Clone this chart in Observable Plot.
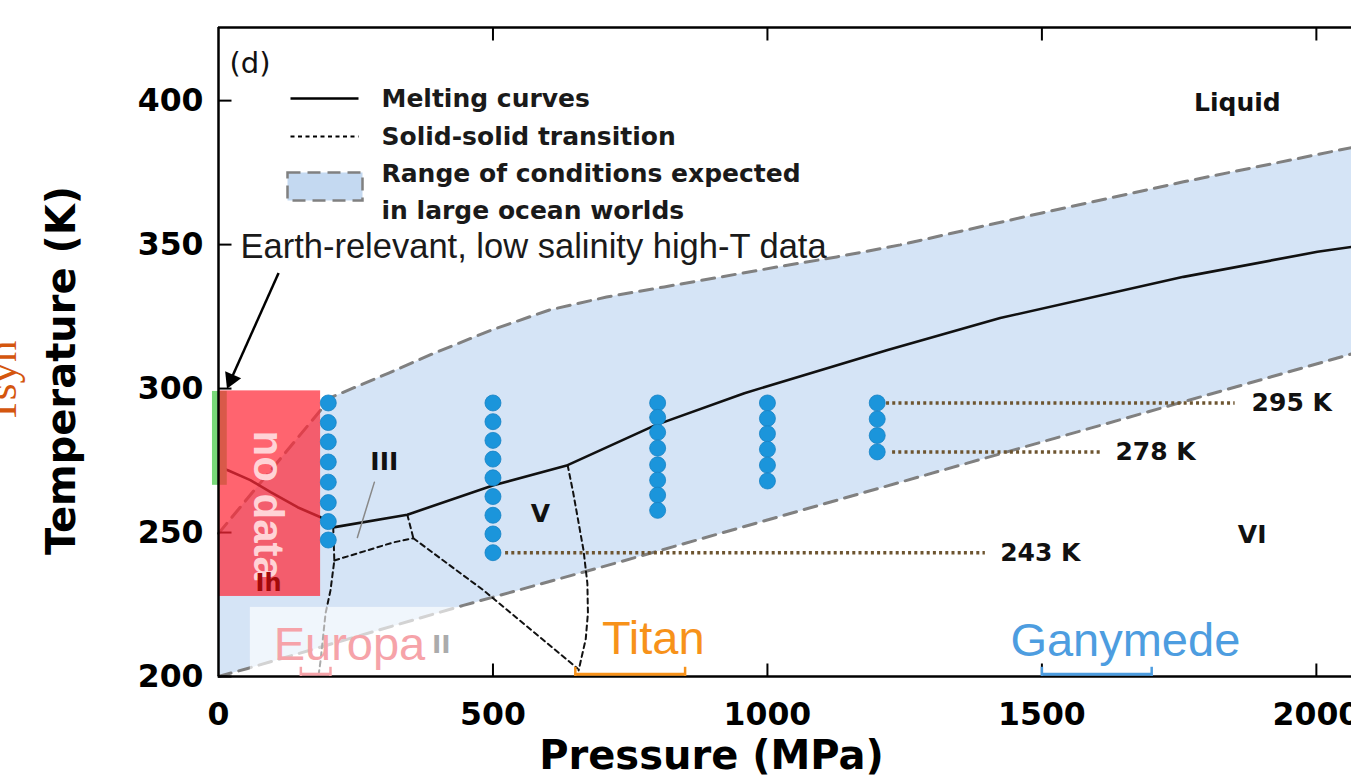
<!DOCTYPE html>
<html>
<head>
<meta charset="utf-8">
<script src="https://cdn.jsdelivr.net/npm/d3@7"></script>
<script src="https://cdn.jsdelivr.net/npm/@observablehq/plot@0.6"></script>
<style>
  html, body { margin: 0; padding: 0; background: #fff; overflow: hidden; }
</style>
</head>
<body>
<div id="chart"></div>
<script>
// ---------- data ----------
const xDomain = [0, 2064];        // MPa (right edge is cropped)
const yDomain = [200, 425.4];     // K
const xTicks = [0, 500, 1000, 1500, 2000];
const xInnerTicks = [500, 1000, 1500, 2000];
const yTicks = [200, 250, 300, 350, 400];

// melting curve (Ih -> III -> V -> VI)
const meltingCurve = [[0,273.2],[16,271.7],[58,268.2],[95,264],[144,258.8],[186,255.3],[195,254.3],[209,251.8],
  [344,256.2],[501,266.4],[636,273.4],[696,278.6],[796,287.3],[958,298.4],[1219,313.4],[1424,324.5],
  [1758,338.8],[2002,347.5],[2064,349.2]];

// solid-solid transitions
const trIhII  = [[209,251.8],[211,240.3],[204,229.9],[195,221.9],[186,205.6],[182,200]];
const trIIIII = [[211,240.3],[271,243.8],[319,246.6],[355,248]];
const trIIIV  = [[344,256.2],[355,248]];
const trIIV   = [[355,248],[483,229.9],[654,202.8]];
const trVVI   = [[636,273.4],[646,264],[654,255.5],[665,243.8],[672,232.3],[673,222],[669,213],[656,202.1]];

// range of conditions expected in large ocean worlds
const oceanUpper = [[0,249.7],[186,292.5],[206,297],[310,305.4],[393,312.3],[497,320.3],[603,327.3],[707,331.8],
  [812,335.3],[916,338.8],[1020,342.3],[1126,345.7],[1242,349.9],[1500,361],[1758,371.8],[2064,383.7]];
const oceanLower = [[0,200],[53,202.8],[446,224.7],[696,237.9],[2064,312]];

// experimental sample points (pressure MPa -> temperatures K)
const samplePressures = [200, 500, 800, 1000, 1200];
const sampleTemps = [
  [295, 288.2, 281.5, 274.5, 267.5, 260.4, 253.8, 247.4],
  [295, 288.5, 282, 275.5, 269, 262.5, 256, 249.5, 243],
  [295, 290, 284.8, 279.3, 273.5, 268.2, 263, 257.7],
  [295, 289.6, 284.3, 278.9, 273.4, 267.9],
  [295, 289.4, 283.7, 278]
];

// isotherm reference lines
const isoTemps  = [295, 278, 243];
const isoStart  = [1217, 1228, 523];
const isoEnd    = [1852, 1607, 1397];
const isoLabelP = [1882, 1634, 1424];

// regions
const noDataBox  = {x1: 0, x2: 186, y1: 227.8, y2: 299.2};
const earthBox   = {x1: -11, x2: 16, y1: 266.4, y2: 299};
const europaBox  = {x1: 58, x2: 441, y1: 200, y2: 224};

// moons: pressure ranges at the ice shell base
const moonNames  = ["Europa", "Titan", "Ganymede"];
const moonColors = ["#f6a3a9", "#f7921a", "#4d9de0"];
const moonP1     = [150, 650, 1500];
const moonP2     = [204, 850, 1700];
const moonLabelP = [238.6, 792, 1652];
const moonLabelT = [210.8, 213.2, 212.5];

// phase labels
const phaseText = ["III", "V", "VI", "II", "Liquid"];
const phaseP    = [302, 586.5, 1883, 406, 1856];
const phaseT    = [274.4, 256.3, 249, 210.8, 399.3];

// legend entries
const legendText = ["Melting curves", "Solid-solid transition", "Range of conditions expected", "in large ocean worlds"];

const leaderIII = [[284,267.5],[253,248.3]];
const arrowEarth = {x1: 104, y1: 337.7, x2: 16, y2: 300.2};

// ---------- build tables ----------
const oceanPolygon = oceanUpper.concat(oceanLower.slice().reverse());
const samples = samplePressures.flatMap((p, i) => sampleTemps[i].map(t => ({p, t})));
const isoLines = isoTemps.map((t, i) => ({t, x1: isoStart[i], x2: isoEnd[i], lx: isoLabelP[i]}));
const moons = moonNames.map((name, i) => ({name, color: moonColors[i], p1: moonP1[i], p2: moonP2[i], lx: moonLabelP[i], ly: moonLabelT[i]}));
const moonEnds = moons.flatMap(m => [{p: m.p1, color: m.color}, {p: m.p2, color: m.color}]);
const phases = phaseText.map((t, i) => ({t, x: phaseP[i], y: phaseT[i]}));

const X = d => d[0], Y = d => d[1];
const tickShape = {draw(ctx, l) { ctx.moveTo(0, 0); ctx.lineTo(0, -l); }};
const blueFill = "#d5e4f6";
const dashGray = "#808080";
const bold = "bold";
const legendDy = [71, 109, 146, 183];

const dashedLine = (arr) => Plot.line(arr, {x: X, y: Y, stroke: "#111", strokeWidth: 2, strokeDasharray: "5,4"});
const legendLabel = (t, i) => Plot.text([t], {frameAnchor: "top-left", dx: 163, dy: legendDy[i], textAnchor: "start", lineAnchor: "middle", fontSize: 25, fontWeight: bold, fill: "#1a1a1a"});

const chart = Plot.plot({
  width: 1351,
  height: 780,
  marginLeft: 218,
  marginRight: 0,
  marginTop: 27,
  marginBottom: 104,
  x: {domain: xDomain},
  y: {domain: yDomain},
  color: {type: "identity"},
  style: {fontFamily: "DejaVu Sans", fontSize: "24px", background: "white", color: "black"},
  marks: [
    // ocean-world range
    Plot.line(oceanPolygon, {x: X, y: Y, fill: blueFill, stroke: null}),
    Plot.line(oceanUpper, {x: X, y: Y, stroke: dashGray, strokeWidth: 3, strokeDasharray: "13,8"}),
    Plot.line(oceanLower, {x: X, y: Y, stroke: dashGray, strokeWidth: 3, strokeDasharray: "13,8"}),

    // legend
    Plot.vector([0], {frameAnchor: "top-left", dx: 72, dy: 71, length: 68, rotate: 90, anchor: "start", shape: tickShape, stroke: "black", strokeWidth: 2.5, strokeLinecap: "butt"}),
    Plot.vector([0], {frameAnchor: "top-left", dx: 72, dy: 109, length: 68, rotate: 90, anchor: "start", shape: tickShape, stroke: "black", strokeWidth: 2, strokeDasharray: "4,3.5", strokeLinecap: "butt"}),
    Plot.frame({insetLeft: 69, insetRight: 989, insetTop: 145, insetBottom: 476, fill: "#c4d9f1", stroke: dashGray, strokeWidth: 2.5, strokeDasharray: "13,7"}),
    ...legendText.map(legendLabel),

    // phase boundaries
    Plot.line(meltingCurve, {x: X, y: Y, stroke: "#111", strokeWidth: 2.6}),
    dashedLine(trIhII), dashedLine(trIIIII), dashedLine(trIIIV), dashedLine(trIIV), dashedLine(trVVI),
    Plot.line(leaderIII, {x: X, y: Y, stroke: "#888", strokeWidth: 1.5}),
    Plot.text(phases, {x: "x", y: "y", text: "t", fontSize: 25, fontWeight: bold, fill: "#111"}),

    // isotherms
    Plot.ruleY(isoLines, {y: "t", x1: "x1", x2: "x2", stroke: "#6e5530", strokeWidth: 3.5, strokeDasharray: "3,3.2"}),
    Plot.text(isoLines, {x: "lx", y: "t", text: d => `${d.t} K`, textAnchor: "start", fontSize: 25, fontWeight: bold, fill: "#111"}),

    // inward ticks
    Plot.vector(yTicks, {x: xDomain[0], y: d => d, length: 13, rotate: 90, anchor: "start", shape: tickShape, stroke: "black", strokeWidth: 2, strokeLinecap: "butt"}),
    Plot.vector(xInnerTicks, {x: d => d, y: yDomain[0], length: 13, rotate: 0, anchor: "start", shape: tickShape, stroke: "black", strokeWidth: 2, strokeLinecap: "butt"}),
    Plot.vector(xInnerTicks, {x: d => d, y: yDomain[1], length: 13, rotate: 180, anchor: "start", shape: tickShape, stroke: "black", strokeWidth: 2, strokeLinecap: "butt"}),

    // white box behind Europa label
    Plot.rect([europaBox], {x1: "x1", x2: "x2", y1: "y1", y2: "y2", fill: "white", fillOpacity: 0.65}),

    // Earth-relevant data and no-data region
    Plot.rect([earthBox], {x1: "x1", x2: "x2", y1: "y1", y2: "y2", fill: "#78d878"}),
    Plot.rect([noDataBox], {x1: "x1", x2: "x2", y1: "y1", y2: "y2", fill: "#ff2838", fillOpacity: 0.72}),
    Plot.text(["no data"], {x: 89, y: 259.5, rotate: 90, textAnchor: "middle", lineAnchor: "middle", fontFamily: "Liberation Sans", fontSize: 42, fontWeight: bold, fill: "#ffd3d6"}),
    Plot.text(["Ih"], {x: 91, y: 232.3, fontSize: 24, fontWeight: bold, fill: "#a30a0a"}),

    // frame
    Plot.ruleX([xDomain[0]], {stroke: "black", strokeWidth: 2.5}),
    Plot.ruleY([yDomain[0], yDomain[1]], {stroke: "black", strokeWidth: 2.5}),

    // samples
    Plot.dot(samples, {x: "p", y: "t", r: 8, fill: "#1b95db", stroke: "#1682c4", strokeWidth: 0.8}),

    // moons
    Plot.ruleY(moons, {y: 200.8, x1: "p1", x2: "p2", stroke: "color", strokeWidth: 3}),
    Plot.ruleX(moonEnds, {x: "p", y1: 200, y2: 203.2, stroke: "color", strokeWidth: 2.5}),
    Plot.text(moons, {x: "lx", y: "ly", text: "name", fill: "color", fontFamily: "Liberation Sans", fontSize: 47}),

    // annotation with filled arrow head
    Plot.text(["Earth-relevant, low salinity high-T data"], {frameAnchor: "top-left", dx: 22, dy: 219, textAnchor: "start", lineAnchor: "middle", fontFamily: "Liberation Sans", fontSize: 34.5, fill: "#1a1a1a"}),
    Plot.link([arrowEarth], {x1: "x1", y1: "y1", x2: "x2", y2: "y2", stroke: "black", strokeWidth: 2.5, dx: 3, dy: -7}),
    Plot.dot([arrowEarth], {x: "x2", y: "y2", symbol: "triangle", r: 6.5, rotate: 204, fill: "black", stroke: null, dx: 3.8, dy: -8.6}),

    // panel tag
    Plot.text(["(d)"], {frameAnchor: "top-left", dx: 11, dy: 36, textAnchor: "start", lineAnchor: "middle", fontSize: 29, fill: "#111"}),

    // axes
    Plot.axisX(xTicks, {anchor: "bottom", tickSize: 0, tickPadding: 26, fontSize: 31.5, fontWeight: bold, tickFormat: d => String(d), label: null}),
    Plot.axisY(yTicks, {anchor: "left", tickSize: 0, tickPadding: 15, fontSize: 31.5, fontWeight: bold, tickFormat: d => String(d), label: null}),
    Plot.text(["Temperature (K)"], {frameAnchor: "left", dx: -156, dy: 18.5, rotate: -90, textAnchor: "middle", lineAnchor: "middle", fontSize: 40, fontWeight: bold, fill: "black"}),
    Plot.text(["Pressure (MPa)"], {frameAnchor: "bottom", dx: -73.5, dy: 80, textAnchor: "middle", lineAnchor: "middle", fontSize: 40, fontWeight: bold, fill: "black"}),

    // fragment of neighbouring panel at left edge
    Plot.text(["Tsyn"], {frameAnchor: "left", dx: -216, dy: 30, rotate: -90, textAnchor: "middle", lineAnchor: "middle", fontFamily: "Liberation Serif", fontSize: 43, fill: "#d4560e"})
  ]
});

document.getElementById("chart").appendChild(chart);
</script>
</body>
</html>
